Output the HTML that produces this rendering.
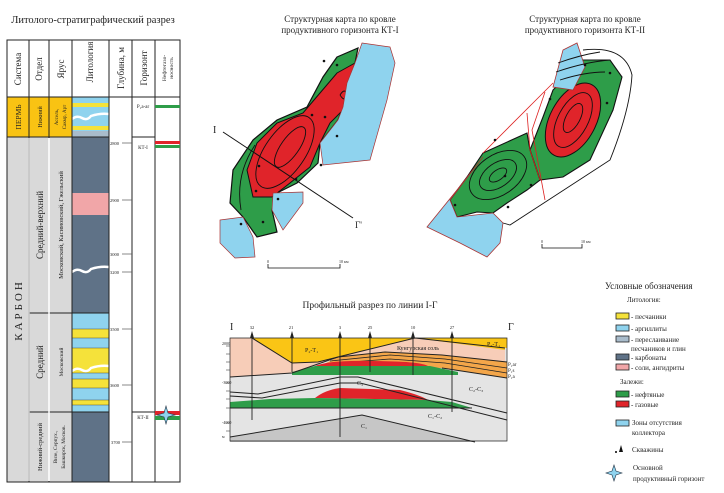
<!DOCTYPE html>
<html><head><meta charset="utf-8"><style>
html,body{margin:0;padding:0;background:#fff}
svg{display:block}
text{font-family:"Liberation Serif","Noto Serif CJK SC",serif;fill:#222}
</style></head><body>
<svg width="724" height="493" viewBox="0 0 724 493" xmlns="http://www.w3.org/2000/svg">
<!-- LEFT TABLE -->
<text x="93" y="23" font-size="10.5" text-anchor="middle">Литолого-стратиграфический разрез</text>
<!-- fills -->
<rect x="7" y="97" width="65" height="40" fill="#f9c313"/>
<rect x="7" y="137" width="22" height="345" fill="#d9d9d9"/>
<rect x="29" y="137" width="20" height="345" fill="#d9d9d9"/>
<rect x="49" y="137" width="23" height="345" fill="#d9d9d9"/>
<!-- lithology -->
<rect x="72" y="97" width="37" height="40" fill="#8fd3ee"/>
<rect x="72" y="103" width="37" height="4" fill="#f5e23a"/>
<rect x="72" y="126" width="37" height="4" fill="#f5e23a"/>
<rect x="72" y="131" width="37" height="6" fill="#a9bccb"/>
<path d="M72,119 q5,-4 10,-1 q5,3 9,-2 q9,-3 18,-2" stroke="#fff" stroke-width="2.5" fill="none"/>
<rect x="72" y="137" width="37" height="176" fill="#5f7287"/>
<rect x="72" y="193" width="37" height="22" fill="#f1a6a8"/>
<path d="M72,272 q5,-4 10,-1 q5,3 9,-2 q9,-3 18,-2" stroke="#fff" stroke-width="2.5" fill="none"/>
<rect x="72" y="313" width="37" height="99" fill="#8fd3ee"/>
<rect x="72" y="329" width="37" height="9" fill="#f5e23a" stroke="#333" stroke-width=".4"/>
<rect x="72" y="348" width="37" height="25" fill="#f5e23a" stroke="#333" stroke-width=".4"/>
<rect x="72" y="379" width="37" height="9" fill="#f5e23a" stroke="#333" stroke-width=".4"/>
<rect x="72" y="400" width="37" height="5" fill="#f5e23a" stroke="#333" stroke-width=".4"/>
<path d="M72,371 q5,-4 10,-1 q5,3 9,-2 q9,-3 18,-2" stroke="#fff" stroke-width="2.5" fill="none"/>
<rect x="72" y="412" width="37" height="70" fill="#5f7287"/>
<!-- grid -->
<g stroke="#222" stroke-width="1" fill="none">
<rect x="7" y="40" width="173" height="442"/>
<line x1="7" y1="97" x2="180" y2="97"/>
<line x1="29" y1="40" x2="29" y2="482"/><line x1="49" y1="40" x2="49" y2="482"/>
<line x1="72" y1="40" x2="72" y2="482"/><line x1="109" y1="40" x2="109" y2="482"/>
<line x1="132" y1="40" x2="132" y2="482"/><line x1="155" y1="40" x2="155" y2="482"/>
<line x1="7" y1="137" x2="109" y2="137"/>
<line x1="29" y1="313" x2="109" y2="313"/><line x1="29" y1="412" x2="109" y2="412"/>
<line x1="132" y1="137" x2="155" y2="137"/><line x1="132" y1="412" x2="155" y2="412"/>
</g>
<g stroke="#fff" stroke-width="1.5"><line x1="29" y1="138" x2="29" y2="481"/><line x1="49" y1="138" x2="49" y2="481"/></g>
<g stroke="#222" stroke-width=".8"><line x1="29" y1="138" x2="29" y2="481" stroke-width=".4"/></g>
<!-- headers vertical -->
<g font-size="9" text-anchor="middle">
<text transform="translate(21,69) rotate(-90)">Система</text>
<text transform="translate(42,69) rotate(-90)">Отдел</text>
<text transform="translate(64,69) rotate(-90)">Ярус</text>
<text transform="translate(93,62) rotate(-90)">Литология</text>
<text transform="translate(124,68) rotate(-90)">Глубина, м</text>
<text transform="translate(147,68) rotate(-90)">Горизонт</text>
<text transform="translate(166,68) rotate(-90)" font-size="5.5">Нефтегазо-</text>
<text transform="translate(173,68) rotate(-90)" font-size="5.5">носность</text>
<text transform="translate(21,117) rotate(-90)" font-size="7.5">ПЕРМЬ</text>
<text transform="translate(42,117) rotate(-90)" font-size="6">Нижний</text>
<text transform="translate(58,117) rotate(-90)" font-size="5">Ассель,</text>
<text transform="translate(66,117) rotate(-90)" font-size="5">Сакмр, Арт</text>
<text transform="translate(22,310) rotate(-90)" font-size="11" letter-spacing="3">КАРБОН</text>
<text transform="translate(43,225) rotate(-90)" font-size="9">Средний-верхний</text>
<text transform="translate(63,225) rotate(-90)" font-size="6.5">Московский, Касимовский, Гжельский</text>
<text transform="translate(43,362) rotate(-90)" font-size="9">Средний</text>
<text transform="translate(63,362) rotate(-90)" font-size="5.5">Московский</text>
<text transform="translate(42,447) rotate(-90)" font-size="6.5">Нижний-средний</text>
<text transform="translate(57,447) rotate(-90)" font-size="5.3">Визе, Серпух.,</text>
<text transform="translate(65,447) rotate(-90)" font-size="5.3">Башкирск, Москов.</text>
</g>
<!-- depth ticks -->
<g font-size="4.5" stroke="#555" stroke-width=".7">
<line x1="122" y1="143" x2="132" y2="143"/><line x1="122" y1="200" x2="132" y2="200"/>
<line x1="122" y1="254" x2="132" y2="254"/><line x1="122" y1="272" x2="132" y2="272"/>
<line x1="122" y1="329" x2="132" y2="329"/><line x1="122" y1="385" x2="132" y2="385"/>
<line x1="122" y1="442" x2="132" y2="442"/>
</g>
<g font-size="4.5" fill="#555">
<text x="110" y="145">2800</text><text x="110" y="202">2900</text><text x="110" y="256">3000</text>
<text x="110" y="274">3200</text><text x="110" y="331">3500</text><text x="110" y="387">3600</text><text x="111" y="444">3700</text>
</g>
<g font-family="Liberation Sans" font-size="5" text-anchor="middle">
<text x="143" y="108" font-family="Liberation Sans,sans-serif">Р₁а-ar</text>
<text x="143" y="149" font-family="Liberation Sans,sans-serif">КТ-I</text>
<text x="143" y="419" font-family="Liberation Sans,sans-serif">КТ-II</text>
</g>
<rect x="155" y="105" width="25" height="3" fill="#2e9d49"/>
<rect x="155" y="141" width="25" height="3" fill="#e0242a"/>
<rect x="155" y="145" width="25" height="3" fill="#2e9d49"/>
<rect x="155" y="411" width="25" height="4" fill="#e0242a"/>
<rect x="155" y="416" width="25" height="4" fill="#2e9d49"/>
<path d="M166,406 L168,413 L175,415 L168,417 L166,424 L164,417 L157,415 L164,413Z" fill="#8fd3ee" stroke="#234" stroke-width=".6"/>

<!-- MAP 1 -->
<text x="340" y="22" font-size="9" text-anchor="middle">Структурная карта по кровле</text>
<text x="340" y="33" font-size="9" text-anchor="middle">продуктивного горизонта КТ-I</text>
<path d="M337,57 L358,48 L355,63 L347,83 L343,107 L338,120 L320,143 L318,163 L297,183 L277,193 L272,210 L277,232 L257,237 L243,217 L230,203 L233,170 L253,140 L277,120 L307,107 L323,77 Z" fill="#2e9d49" stroke="#111" stroke-width="1.2"/>
<path d="M337,73 L355,63 L347,87 L343,110 L330,123 L320,143 L310,167 L290,183 L272,197 L253,197 L247,170 L257,143 L277,123 L303,113 L320,93 Z" fill="#e0242a" stroke="#111" stroke-width="1"/>
<g fill="none" stroke="#111" stroke-width=".9">
<ellipse cx="290" cy="147" rx="24" ry="9" transform="rotate(-55 290 147)"/>
<ellipse cx="285" cy="152" rx="42" ry="20" transform="rotate(-55 285 152)"/>
<path d="M241,210 Q235,175 255,145"/>
<path d="M340,95 q5,-8 7,0 q-2,8 -7,0"/>
</g>
<path d="M362,43 L390,47 L395,63 L387,100 L370,160 L323,165 L320,143 L338,120 L343,107 L347,83 L355,63 Z" fill="#8fd3ee" stroke="#a33" stroke-width=".7"/>
<path d="M220,220 L243,217 L253,237 L255,257 L235,258 L220,243 Z" fill="#8fd3ee" stroke="#a33" stroke-width=".7"/>
<path d="M273,193 L303,192 L303,203 L283,230 L272,210 Z" fill="#8fd3ee" stroke="#a33" stroke-width=".7"/>
<line x1="223" y1="132" x2="353" y2="218" stroke="#111" stroke-width="1"/>
<text x="213" y="133" font-size="10">I</text>
<text x="355" y="228" font-size="9">Г'</text>
<g fill="#111"><circle cx="324" cy="61" r="1.3"/><circle cx="337" cy="65" r="1.3"/><circle cx="312" cy="115" r="1.3"/><circle cx="325" cy="117" r="1.3"/><circle cx="337" cy="136" r="1.3"/><circle cx="321" cy="165" r="1.3"/><circle cx="259" cy="166" r="1.3"/><circle cx="256" cy="191" r="1.3"/><circle cx="278" cy="199" r="1.3"/><circle cx="263" cy="222" r="1.3"/><circle cx="241" cy="224" r="1.3"/><circle cx="296" cy="179" r="1.3"/></g>
<path d="M268,264 V268 H340 V264" fill="none" stroke="#111" stroke-width=".8"/>
<text x="267" y="263" font-size="4">0</text><text x="339" y="263" font-size="4">10 км</text>

<!-- MAP 2 -->
<text x="585" y="22" font-size="9" text-anchor="middle">Структурная карта по кровле</text>
<text x="585" y="33" font-size="9" text-anchor="middle">продуктивного горизонта КТ-II</text>
<path d="M583,50 Q625,45 632,75 Q630,110 610,160 L510,225 L503,223" fill="none" stroke="#111" stroke-width=".9"/>
<path d="M583,60 L610,60 L622,77 L613,110 L590,160 L563,177 L540,180 L530,150 L543,117 L553,90 Z" fill="#2e9d49" stroke="#111" stroke-width="1.1"/>
<path d="M483,153 L527,133 L530,150 L540,180 L527,190 L507,203 L493,213 L477,212 L457,217 L450,200 L467,177 Z" fill="#2e9d49" stroke="#111" stroke-width="1.1"/>
<ellipse cx="573" cy="120" rx="23" ry="40" transform="rotate(28 573 120)" fill="#e0242a" stroke="#111"/>
<g fill="none" stroke="#111" stroke-width=".9">
<ellipse cx="573" cy="120" rx="15" ry="30" transform="rotate(28 573 120)"/>
<ellipse cx="573" cy="118" rx="7" ry="16" transform="rotate(28 573 118)"/>
<ellipse cx="498" cy="175" rx="10" ry="5" transform="rotate(-35 498 175)"/>
<ellipse cx="498" cy="175" rx="21" ry="12" transform="rotate(-35 498 175)"/>
<ellipse cx="498" cy="175" rx="32" ry="20" transform="rotate(-35 498 175)"/>
</g>
<path d="M563,50 L577,43 L585,67 L573,90 L553,87 Z" fill="#8fd3ee" stroke="#a33" stroke-width=".8"/>
<g fill="none" stroke="#111" stroke-width=".9"><path d="M558,63 Q580,55 600,52"/><path d="M556,72 Q585,62 610,60"/><path d="M560,80 Q585,72 605,72"/></g>
<path d="M483,157 L450,200 L457,217 L493,213 L503,223 L500,243 L487,257 L460,243 L427,227 L457,190 Z" fill="#8fd3ee" stroke="#a33" stroke-width=".8"/>
<g fill="none" stroke="#d22" stroke-width=".8"><path d="M553,83 L483,153"/><path d="M527,113 L530,150 L540,180"/><path d="M545,92 L532,130 L545,200"/></g>
<g fill="#111"><circle cx="585" cy="65" r="1.3"/><circle cx="610" cy="73" r="1.3"/><circle cx="550" cy="99" r="1.3"/><circle cx="607" cy="103" r="1.3"/><circle cx="495" cy="140" r="1.3"/><circle cx="455" cy="205" r="1.3"/><circle cx="508" cy="207" r="1.3"/><circle cx="531" cy="185" r="1.3"/><circle cx="505" cy="176" r="1.3"/></g>
<path d="M542,244 V248 H582 V244" fill="none" stroke="#111" stroke-width=".8"/>
<text x="541" y="243" font-size="4">0</text><text x="581" y="243" font-size="4">10 км</text>

<!-- PROFILE -->
<text x="370" y="308" font-size="9.5" text-anchor="middle">Профильный разрез по линии I-Г</text>
<rect x="230" y="338" width="277" height="103" fill="#e4e4e4"/>
<!-- pink left -->
<path d="M230,338 L252,338 L292,363 L318,362 L358,352 L415,338 L505,348 L505,362 L442,355 L385,352 L338,357 L292,373 L230,377 Z" fill="#f7cdb8"/>
<path d="M230,338 L507,338 L507,348 L415,338 L358,352 L318,362 L292,363 L252,338 Z" fill="#fac515"/>
<path d="M505,348 L505,350 L415,338 Z" fill="#fac515"/>
<!-- orange bands -->
<path d="M338,357 L385,352 L442,355 L507,362 L507,378 L442,368 L368,367 L320,366 Z" fill="#f3a64a"/>
<g fill="none" stroke="#222" stroke-width=".8"><path d="M330,361 L390,355 L445,359 L507,368"/><path d="M325,364 L390,359 L445,363 L507,373"/></g>
<path d="M315,366 Q330,360 370,361 Q420,361 428,366 Z" fill="#e0242a"/>
<path d="M292,372 L315,366 L430,366 L458,372 L458,375 L292,375 Z" fill="#2e9d49"/>
<!-- lower layers -->
<path d="M315,398 Q325,390 340,388 L400,390 Q420,395 428,400 Z" fill="#e0242a"/>
<path d="M230,402 L270,399 L315,398 L428,400 L452,402 L472,408 L230,408 Z" fill="#2e9d49"/>
<path d="M230,437 L362,415 L475,442 L230,442 Z" fill="#c6c6c6"/>
<g fill="none" stroke="#222" stroke-width="1">
<path d="M230,338 H507 V441 H230 Z" stroke-width=".7"/>
<path d="M252,338 L292,363 L318,362 L358,352 L415,338 L505,348"/>
<path d="M230,377 L292,373 L338,357 L385,352 L442,355 L507,362"/>
<path d="M230,392 L258,394 L340,377 L358,377 L507,413"/>
<path d="M230,396 L262,398 L340,383 L360,383 L507,420"/>
<path d="M230,408 L472,408"/>
<path d="M230,437 L362,415 L475,442"/>
<path d="M442,368 L507,378"/>
</g>
<!-- wells -->
<g stroke="#222" stroke-width=".9">
<line x1="252" y1="335" x2="252" y2="420"/><line x1="292" y1="335" x2="292" y2="372"/>
<line x1="340" y1="335" x2="340" y2="437"/><line x1="370" y1="335" x2="370" y2="372"/>
<line x1="413" y1="335" x2="413" y2="375"/><line x1="452" y1="335" x2="452" y2="412"/>
</g>
<g fill="#222"><path d="M250,338 L252,331 L254,338Z"/><path d="M290,338 L292,331 L294,338Z"/><path d="M338,338 L340,331 L342,338Z"/><path d="M368,338 L370,331 L372,338Z"/><path d="M411,338 L413,331 L415,338Z"/><path d="M450,338 L452,331 L454,338Z"/></g>
<g font-size="4.5" text-anchor="middle"><text x="252" y="329">32</text><text x="291" y="329">21</text><text x="340" y="329">3</text><text x="370" y="329">25</text><text x="413" y="329">10</text><text x="452" y="329">27</text></g>
<text x="230" y="330" font-size="10">I</text><text x="508" y="330" font-size="10">Г</text>
<g font-size="6"><text x="305" y="352">P₂-T₁</text><text x="487" y="346">P₂-T₁</text><text x="397" y="350">Кунгурская соль</text>
<text x="508" y="366" font-size="5">P₁ar</text><text x="508" y="372" font-size="5">P₁s</text><text x="508" y="378" font-size="5">P₁a</text>
<text x="357" y="385">C₃</text><text x="469" y="391">C₂-C₃</text><text x="428" y="418">C₁-C₂</text><text x="361" y="428">C₁</text></g>
<g font-size="4" fill="#444"><text x="222" y="345">2000</text><text x="222" y="384">-3000</text><text x="222" y="424">-4000</text><text x="222" y="438">м</text></g>
<g stroke="#444" stroke-width=".6"><line x1="226" y1="346" x2="230" y2="346"/><line x1="226" y1="354" x2="230" y2="354"/><line x1="226" y1="362" x2="230" y2="362"/><line x1="226" y1="370" x2="230" y2="370"/><line x1="226" y1="383" x2="230" y2="383"/><line x1="226" y1="391" x2="230" y2="391"/><line x1="226" y1="399" x2="230" y2="399"/><line x1="226" y1="408" x2="230" y2="408"/><line x1="226" y1="423" x2="230" y2="423"/><line x1="226" y1="431" x2="230" y2="431"/></g>

<!-- LEGEND -->
<text x="605" y="289" font-size="9">Условные обозначения</text>
<g font-size="7">
<text x="627" y="302">Литология:</text>
<rect x="616" y="313" width="13" height="6" fill="#f5e23a" stroke="#222" stroke-width=".8"/><text x="631" y="319">- песчаники</text>
<rect x="616" y="325" width="13" height="6" fill="#8fd3ee" stroke="#222" stroke-width=".8"/><text x="631" y="331">- аргиллиты</text>
<rect x="616" y="336" width="13" height="6" fill="#a9bccb" stroke="#222" stroke-width=".8"/><text x="631" y="342">- переслаивание</text><text x="631" y="351">песчаников и глин</text>
<rect x="616" y="354" width="13" height="6" fill="#5f7287" stroke="#222" stroke-width=".8"/><text x="631" y="360">- карбонаты</text>
<rect x="616" y="364" width="13" height="6" fill="#f1a6a8" stroke="#222" stroke-width=".8"/><text x="631" y="370">- соли, ангидриты</text>
<text x="620" y="384">Залежи:</text>
<rect x="616" y="391" width="13" height="6" fill="#2e9d49" stroke="#222" stroke-width=".8"/><text x="631" y="397">- нефтяные</text>
<rect x="616" y="401" width="13" height="6" fill="#e0242a" stroke="#222" stroke-width=".8"/><text x="631" y="407">- газовые</text>
<rect x="616" y="420" width="13" height="6" fill="#8fd3ee" stroke="#222" stroke-width=".8"/><text x="632" y="425">Зоны отсутствия</text><text x="632" y="435">коллектора</text>
<circle cx="616" cy="452" r="1"/><path d="M619,452 L621,445 L623,452Z" fill="#111"/><text x="632" y="452">Скважины</text>
<path d="M614,465 L616,471 L622,473 L616,475 L614,481 L612,475 L606,473 L612,471Z" fill="#8fd3ee" stroke="#234" stroke-width=".6"/>
<text x="633" y="470">Основной</text><text x="633" y="481">продуктивный горизонт</text>
</g>
</svg>
</body></html>
